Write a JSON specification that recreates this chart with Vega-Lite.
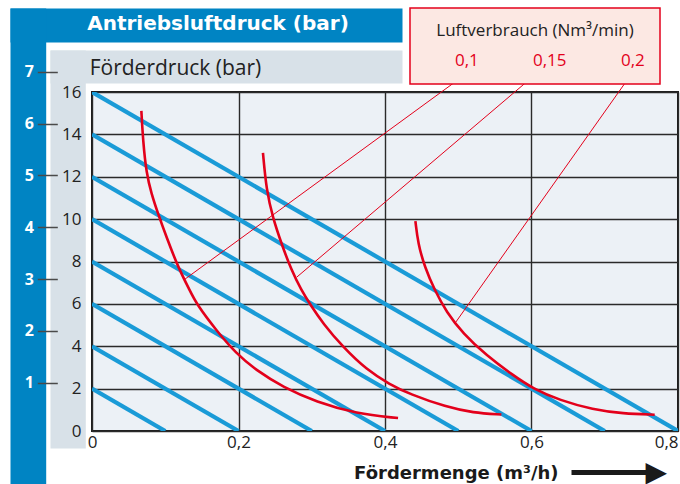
{
  "$schema": "https://vega.github.io/schema/vega-lite/v6.json",
  "width": 586,
  "height": 339,
  "autosize": {"type": "none"},
  "padding": {"left": 92, "top": 92, "right": 2, "bottom": 53},
  "background": "white",
  "config": {
    "font": "Open Sans",
    "view": {"fill": "#ecf1f6", "stroke": "#1e1e1e", "strokeWidth": 2},
    "legend": {"strokeWidth": 1.5}
  },
  "datasets": {
    "pumplines": [
      {"x1": 0, "y1": 2, "x2": 0.1, "y2": 0},
      {"x1": 0, "y1": 4, "x2": 0.2, "y2": 0},
      {"x1": 0, "y1": 6, "x2": 0.3, "y2": 0},
      {"x1": 0, "y1": 8, "x2": 0.4, "y2": 0},
      {"x1": 0, "y1": 10, "x2": 0.5, "y2": 0},
      {"x1": 0, "y1": 12, "x2": 0.6, "y2": 0},
      {"x1": 0, "y1": 14, "x2": 0.7, "y2": 0},
      {"x1": 0, "y1": 16, "x2": 0.8, "y2": 0}
    ],
    "curves": [
      {"flow": "0,1", "x": 0.0674, "y": 15.11},
      {"flow": "0,1", "x": 0.0696, "y": 13.73},
      {"flow": "0,1", "x": 0.0743, "y": 12.15},
      {"flow": "0,1", "x": 0.0811, "y": 11.21},
      {"flow": "0,1", "x": 0.0901, "y": 10.26},
      {"flow": "0,1", "x": 0.1016, "y": 9.16},
      {"flow": "0,1", "x": 0.1174, "y": 7.74},
      {"flow": "0,1", "x": 0.1334, "y": 6.64},
      {"flow": "0,1", "x": 0.1425, "y": 6.0},
      {"flow": "0,1", "x": 0.1698, "y": 4.74},
      {"flow": "0,1", "x": 0.1971, "y": 3.65},
      {"flow": "0,1", "x": 0.2244, "y": 2.86},
      {"flow": "0,1", "x": 0.2608, "y": 2.07},
      {"flow": "0,1", "x": 0.3063, "y": 1.37},
      {"flow": "0,1", "x": 0.361, "y": 0.82},
      {"flow": "0,1", "x": 0.4178, "y": 0.61},
      {"flow": "0,15", "x": 0.2334, "y": 13.13},
      {"flow": "0,15", "x": 0.2381, "y": 11.37},
      {"flow": "0,15", "x": 0.2471, "y": 10.03},
      {"flow": "0,15", "x": 0.2586, "y": 8.85},
      {"flow": "0,15", "x": 0.2722, "y": 7.59},
      {"flow": "0,15", "x": 0.2859, "y": 6.64},
      {"flow": "0,15", "x": 0.2972, "y": 6.01},
      {"flow": "0,15", "x": 0.3154, "y": 5.07},
      {"flow": "0,15", "x": 0.3427, "y": 3.96},
      {"flow": "0,15", "x": 0.3746, "y": 2.9},
      {"flow": "0,15", "x": 0.4064, "y": 2.2},
      {"flow": "0,15", "x": 0.4337, "y": 1.74},
      {"flow": "0,15", "x": 0.4838, "y": 1.13},
      {"flow": "0,15", "x": 0.5201, "y": 0.86},
      {"flow": "0,15", "x": 0.5589, "y": 0.78},
      {"flow": "0,2", "x": 0.4415, "y": 9.91},
      {"flow": "0,2", "x": 0.4451, "y": 8.85},
      {"flow": "0,2", "x": 0.4542, "y": 7.74},
      {"flow": "0,2", "x": 0.4679, "y": 6.64},
      {"flow": "0,2", "x": 0.4838, "y": 5.62},
      {"flow": "0,2", "x": 0.5065, "y": 4.6},
      {"flow": "0,2", "x": 0.5384, "y": 3.57},
      {"flow": "0,2", "x": 0.5747, "y": 2.63},
      {"flow": "0,2", "x": 0.602, "y": 2.0},
      {"flow": "0,2", "x": 0.6385, "y": 1.45},
      {"flow": "0,2", "x": 0.684, "y": 1.01},
      {"flow": "0,2", "x": 0.7249, "y": 0.82},
      {"flow": "0,2", "x": 0.7682, "y": 0.77}
    ],
    "leaders": [
      {"flow": "0,1", "x1": 0.5102, "y1": 16.84, "x2": 0.1266, "y2": 7.16},
      {"flow": "0,15", "x1": 0.6057, "y1": 16.84, "x2": 0.2795, "y2": 7.26},
      {"flow": "0,2", "x1": 0.734, "y1": 16.73, "x2": 0.4965, "y2": 5.13}
    ],
    "drive": [
      {"bar": 1}, {"bar": 2}, {"bar": 3}, {"bar": 4}, {"bar": 5}, {"bar": 6}, {"bar": 7}
    ]
  },
  "layer": [
    {
      "data": {"name": "drive"},
      "mark": {"type": "point", "opacity": 0},
      "encoding": {
        "x": {
          "datum": 0.5, "type": "quantitative",
          "scale": {"domain": [0, 1], "range": [-82, 310], "nice": false, "zero": false},
          "axis": {"orient": "top", "offset": 67, "domain": true, "domainColor": "#0084c3", "domainWidth": 34, "ticks": false, "labels": false, "grid": false, "title": null}
        },
        "y": {
          "datum": 0.5, "type": "quantitative",
          "scale": {"domain": [0, 1], "range": [402, -84], "nice": false, "zero": false},
          "axis": {"orient": "left", "offset": 64.15, "domain": true, "domainColor": "#0084c3", "domainWidth": 35.7, "ticks": false, "labels": false, "grid": false, "title": null}
        }
      }
    },
    {
      "data": {"name": "drive"},
      "mark": {"type": "point", "opacity": 0},
      "encoding": {
        "x": {
          "datum": 0.5, "type": "quantitative",
          "scale": {"domain": [0, 1], "range": [-42, 310], "nice": false, "zero": false},
          "axis": {"orient": "top", "offset": 25.5, "domain": true, "domainColor": "#d8e1e8", "domainWidth": 33, "ticks": false, "labels": false, "grid": false, "title": null}
        },
        "y": {
          "datum": 0.5, "type": "quantitative",
          "scale": {"domain": [0, 1], "range": [356, -42], "nice": false, "zero": false},
          "axis": {"orient": "left", "offset": 24.35, "domain": true, "domainColor": "#d8e1e8", "domainWidth": 35.3, "ticks": false, "labels": false, "grid": false, "title": null}
        }
      }
    },
    {
      "data": {"name": "drive"},
      "mark": {"type": "point", "opacity": 0},
      "encoding": {
        "x": {
          "datum": 0.5, "type": "quantitative",
          "scale": {"domain": [0, 1], "range": [479, 562], "nice": false, "zero": false},
          "axis": {"orient": "bottom", "offset": 41, "domain": true, "domainColor": "#1a1a1a", "domainWidth": 5, "ticks": false, "labels": false, "grid": false,
            "title": "▶", "titleFont": "DejaVu Sans", "titleFontSize": 28, "titleColor": "#1a1a1a", "titleAlign": "left", "titleBaseline": "middle", "titleX": 553, "titleY": 0}
        },
        "y": {
          "field": "bar", "type": "quantitative",
          "scale": {"domain": [-1, 8], "range": [394.3, -72.1], "nice": false, "zero": false},
          "axis": {"orient": "left", "offset": 34.7, "values": [1, 2, 3, 4, 5, 6, 7], "domain": false, "ticks": true, "tickSize": 20, "tickColor": "#4a4a4a", "tickWidth": 1.5,
            "labelColor": "white", "labelFontWeight": "bold", "labelFontSize": 16, "labelPadding": 4, "labelFlush": false, "labelOverlap": false, "grid": false,
            "title": "Antriebsluftdruck (bar)", "titleAngle": 0, "titleX": 160.2, "titleY": -62.5, "titleAlign": "center", "titleBaseline": "alphabetic",
            "titleFont": "DejaVu Sans", "titleFontSize": 20, "titleFontWeight": "bold", "titleColor": "white"}
        }
      }
    },
    {
      "layer": [
        {
          "data": {"name": "pumplines"},
          "mark": {"type": "rule", "color": "#1a9bd7", "strokeWidth": 4.2, "clip": true},
          "encoding": {
            "x": {
              "field": "x1", "type": "quantitative", "title": "Fördermenge (m³/h)",
              "scale": {"domain": [0, 0.8], "nice": false, "zero": false},
              "axis": {"orient": "bottom", "values": [0, 0.2, 0.4, 0.6, 0.8], "domain": false, "ticks": false, "tickSize": 0, "labelPadding": 3,
                "labelFontSize": 17, "labelColor": "#222", "labelFlush": false, "labelOverlap": false,
                "labelAlign": {"expr": "datum.value >= 0.79 ? 'right' : 'center'"},
                "labelExpr": "replace(format(datum.value, '.1~f'), '.', ',')",
                "grid": true, "gridColor": "#2a2a2a", "gridWidth": 1.4, "gridOpacity": 1,
                "titleFont": "DejaVu Sans", "titleFontSize": 18, "titleFontWeight": "bold", "titleColor": "#1a1a1a",
                "titleAlign": "right", "titleBaseline": "alphabetic", "titleX": 466, "titleY": 47}
            },
            "y": {
              "field": "y1", "type": "quantitative", "title": "Förderdruck (bar)",
              "scale": {"domain": [0, 16], "nice": false, "zero": false},
              "axis": {"orient": "left", "values": [0, 2, 4, 6, 8, 10, 12, 14, 16], "domain": false, "ticks": false, "tickSize": 0, "labelPadding": 11,
                "labelFontSize": 17, "labelColor": "#222", "labelFlush": false, "labelOverlap": false,
                "grid": true, "gridColor": "#2a2a2a", "gridWidth": 1.4, "gridOpacity": 1,
                "titleAngle": 0, "titleX": 83, "titleY": -18, "titleAlign": "center", "titleBaseline": "alphabetic",
                "titleFontSize": 21, "titleFontWeight": "normal", "titleColor": "#222"}
            },
            "x2": {"field": "x2"},
            "y2": {"field": "y2"}
          }
        },
        {
          "data": {"name": "curves"},
          "mark": {"type": "line", "strokeWidth": 2.6, "interpolate": "basis"},
          "encoding": {
            "x": {"field": "x", "type": "quantitative", "title": "Fördermenge (m³/h)"},
            "y": {"field": "y", "type": "quantitative", "title": "Förderdruck (bar)"},
            "stroke": {
              "field": "flow", "type": "nominal", "title": "Luftverbrauch (Nm³/min)",
              "scale": {"domain": ["0,1", "0,15", "0,2"], "range": ["#e3001b", "#e3001b", "#e3001b"]},
              "legend": {
                "orient": "none", "legendX": 318, "legendY": -84, "direction": "horizontal", "columns": 3, "columnPadding": 24,
                "padding": 15, "fillColor": "#fce8e3", "strokeColor": "#e3001b",
                "titleAnchor": "middle", "titleFontSize": 17, "titleFontWeight": "normal", "titleColor": "#222", "titlePadding": 12, "titleLimit": 400,
                "labelFontSize": 17, "labelColor": "#e3001b", "labelOffset": 13, "labelLimit": 200,
                "labelExpr": "datum.label == '0,2' ? '0,2\u00a0\u00a0\u00a0\u00a0' : datum.label",
                "symbolType": "circle", "symbolSize": 289, "symbolOpacity": 0, "symbolStrokeWidth": 0
              }
            }
          }
        },
        {
          "data": {"name": "leaders"},
          "mark": {"type": "rule", "color": "#e3001b", "strokeWidth": 1},
          "encoding": {
            "x": {"field": "x1", "type": "quantitative", "title": "Fördermenge (m³/h)"},
            "y": {"field": "y1", "type": "quantitative", "title": "Förderdruck (bar)"},
            "x2": {"field": "x2"},
            "y2": {"field": "y2"}
          }
        }
      ]
    }
  ],
  "resolve": {"scale": {"x": "independent", "y": "independent"}}
}
